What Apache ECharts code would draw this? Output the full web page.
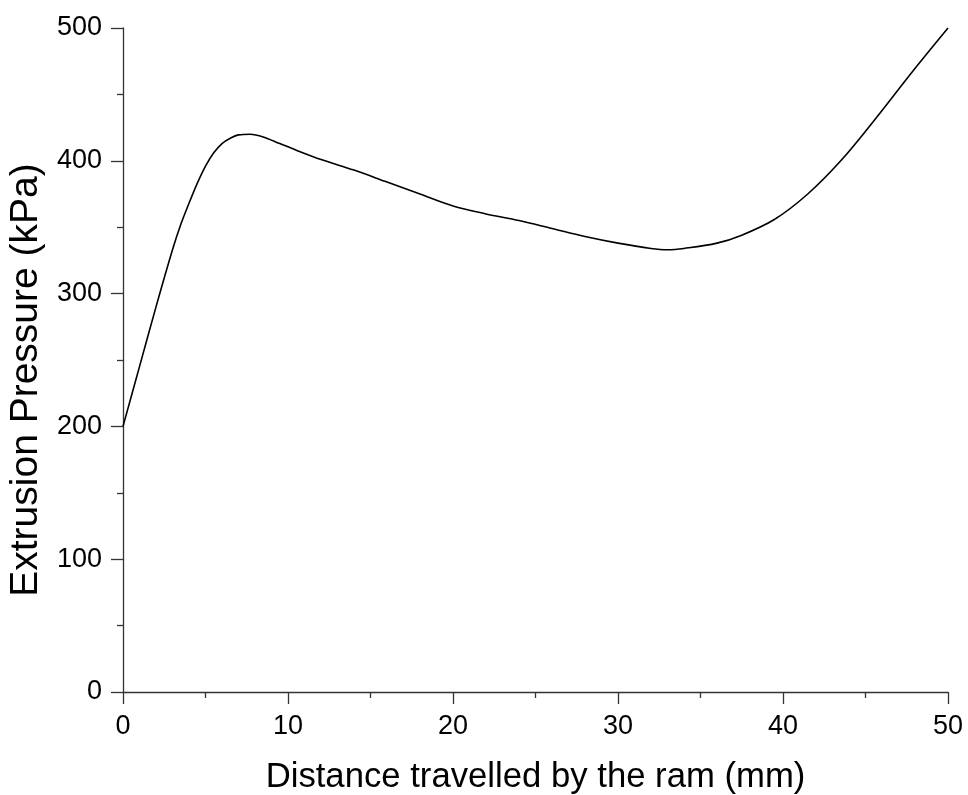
<!DOCTYPE html>
<html>
<head>
<meta charset="utf-8">
<script src="https://cdn.jsdelivr.net/npm/echarts@6/dist/echarts.min.js"></script>
<style>html,body{margin:0;padding:0;background:#fff;}#c{width:968px;height:795px;}</style>
</head>
<body>
<div id="c"></div>
<script>
const distance = [0, 1, 2, 3, 3.5, 4, 4.5, 5, 5.5, 6, 6.5, 7, 7.7, 8.5, 9.5, 10.5, 12, 14, 16, 18, 20, 22, 24, 26, 28, 30, 32, 33, 34, 36, 37.5, 39.5, 41.5, 43.5, 45.5, 47.9, 50];
const pressure = [200, 245, 290, 333, 352, 368, 383, 396, 406, 413, 417, 419.5, 420, 418, 413, 408, 401, 393, 384, 375, 366, 360, 355, 349, 343, 338, 334, 333, 334, 338, 344, 356, 375, 400, 430, 468, 500];
const xTitle = 'Distance travelled by the ram (mm)';
const yTitle = 'Extrusion Pressure (kPa)';

const font = '"Liberation Sans", Arial, sans-serif';
const axisCommon = {
  axisLine: { show: true, lineStyle: { color: '#333', width: 1.3 } },
  axisTick: { show: true, inside: false, length: 12, lineStyle: { color: '#333', width: 1.3 } },
  minorTick: { show: true, splitNumber: 2, length: 6, lineStyle: { color: '#333', width: 1.3 } },
  splitLine: { show: false },
  axisLabel: { color: '#000', fontSize: 27, fontFamily: font },
  nameLocation: 'middle',
  nameTextStyle: { color: '#000', fontFamily: font }
};

const chart = echarts.init(document.getElementById('c'));
chart.setOption({
  backgroundColor: '#fff',
  animation: false,
  grid: { left: 123, right: 20, top: 28, bottom: 103, containLabel: false, outerBoundsMode: 'none' },
  xAxis: Object.assign({}, axisCommon, {
    type: 'value', min: 0, max: 50, interval: 10,
    name: xTitle, nameGap: 68,
    axisLabel: Object.assign({}, axisCommon.axisLabel, { margin: 21 }),
    nameTextStyle: Object.assign({}, axisCommon.nameTextStyle, { fontSize: 34.7 })
  }),
  yAxis: Object.assign({}, axisCommon, {
    type: 'value', min: 0, max: 500, interval: 100,
    name: yTitle, nameGap: 69,
    axisLabel: Object.assign({}, axisCommon.axisLabel, { margin: 21 }),
    nameTextStyle: Object.assign({}, axisCommon.nameTextStyle, { fontSize: 39, padding: [0, 40, 0, 0] })
  }),
  series: [{
    type: 'line',
    data: distance.map((d, i) => [d, pressure[i]]),
    smooth: 0.35,
    showSymbol: false,
    lineStyle: { color: '#000', width: 1.6 }
  }]
});
</script>
</body>
</html>
